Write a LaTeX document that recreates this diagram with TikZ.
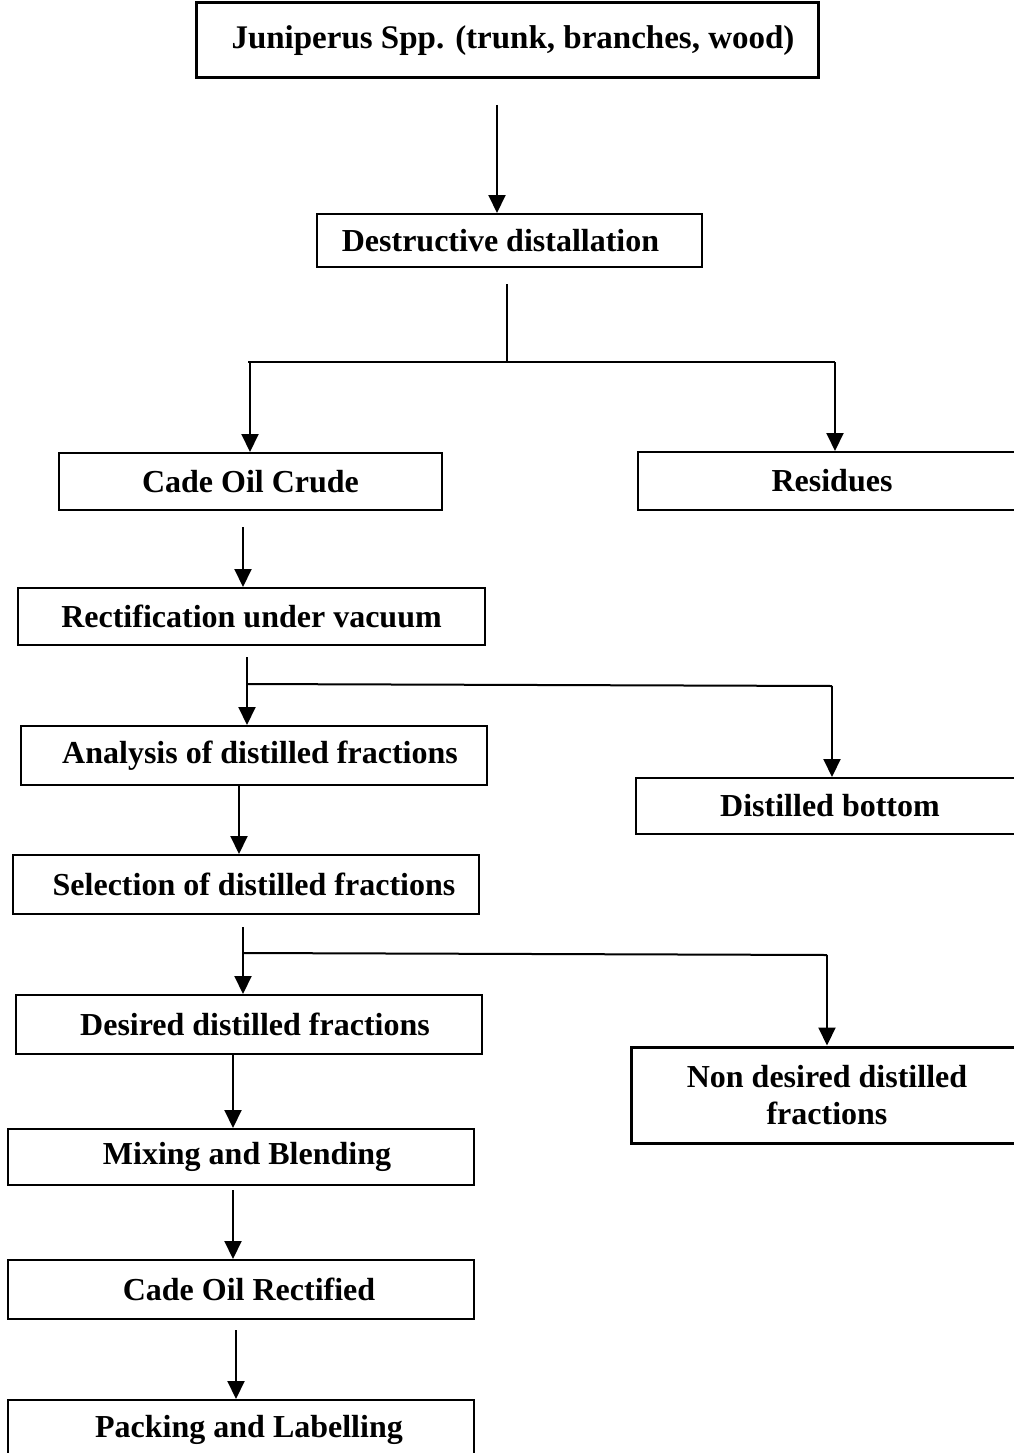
\documentclass[tikz,border=0pt]{standalone}
\usepackage{fontspec}
\setmainfont{Liberation Serif}
\usetikzlibrary{arrows.meta}
\begin{document}
\begin{tikzpicture}[x=1pt,y=-1pt,
  box/.style={draw,line width=2pt,rectangle,inner sep=0pt,align=center,
    font=\bfseries\fontsize{32}{37}\selectfont},
  thick box/.style={box,line width=3pt},
  conn/.style={line width=2pt},
  arr/.style={conn,-{Triangle[width=17pt,length=18pt]}}]
\clip (0,0) rectangle (1014,1453);
\fill[white] (0,0) rectangle (1014,1453);
% boxes
\node[thick box,minimum width=622pt,minimum height=75pt,font=\bfseries\fontsize{33}{37}\selectfont] (jun) at (507,40.5) {\hspace*{12pt}Juniperus Spp. (trunk, branches, wood)};
\node[box,minimum width=385pt,minimum height=53pt] (dd) at (509.5,240.5) {\hspace*{-18pt}Destructive distallation};
\node[box,minimum width=383pt,minimum height=57pt] (crude) at (250.5,481.5) {Cade Oil Crude};
\node[box,minimum width=388pt,minimum height=58pt] (res) at (832,481) {Residues};
\node[box,minimum width=467pt,minimum height=57pt] (rect) at (251.5,616.5) {Rectification under vacuum};
\node[box,minimum width=466pt,minimum height=59pt] (ana) at (254,755.5) {\hspace*{12pt}Analysis of distilled fractions};
\node[box,minimum width=388pt,minimum height=56pt] (bot) at (830,806) {Distilled bottom};
\node[box,minimum width=466pt,minimum height=59pt] (sel) at (246,884.5) {\hspace*{16pt}Selection of distilled fractions};
\node[box,minimum width=466pt,minimum height=59pt] (des) at (249,1024.5) {\hspace*{12pt}Desired distilled fractions};
\node[thick box,minimum width=392pt,minimum height=96pt] (non) at (827,1095) {Non desired distilled\\fractions};
\node[box,minimum width=466pt,minimum height=56pt] (mix) at (241,1157) {\hspace*{12pt}Mixing and Blending};
\node[box,minimum width=466pt,minimum height=59pt] (rectf) at (241,1289.5) {\hspace*{16pt}Cade Oil Rectified};
\node[box,minimum width=466pt,minimum height=60pt] (pack) at (241,1430) {\hspace*{16pt}Packing and Labelling};
% connector points
\coordinate (s1) at (497,105);
\coordinate (s2) at (507,284);
\coordinate (j2) at (507,362);
\coordinate (l2) at (248,362);
\coordinate (r2) at (835,362);
\coordinate (s3) at (243,527);
\coordinate (s4) at (247,657);
\coordinate (j4) at (247,684);
\coordinate (r4) at (832,686);
\coordinate (s5) at (239,786);
\coordinate (s6) at (243,927);
\coordinate (j6) at (243,953);
\coordinate (r6) at (827,955);
\coordinate (s7) at (233,1055);
\coordinate (s8) at (233,1190);
\coordinate (s9) at (236,1330);
% connectors
\draw[arr] (s1) -- (s1 |- dd.north);
\draw[conn] (s2) -- (j2);
\draw[conn] (l2) -- (r2);
\draw[arr] ([xshift=2pt]l2) -- ([xshift=2pt]l2 |- crude.north);
\draw[arr] (r2) -- (r2 |- res.north);
\draw[arr] (s3) -- (s3 |- rect.north);
\draw[arr] (s4) -- (s4 |- ana.north);
\draw[conn] (j4) -- (r4);
\draw[arr] (r4) -- (r4 |- bot.north);
\draw[arr] (s5) -- (s5 |- sel.north);
\draw[arr] (s6) -- (s6 |- des.north);
\draw[conn] (j6) -- (r6);
\draw[arr] (r6) -- (r6 |- non.north);
\draw[arr] (s7) -- (s7 |- mix.north);
\draw[arr] (s8) -- (s8 |- rectf.north);
\draw[arr] (s9) -- (s9 |- pack.north);
\end{tikzpicture}
\end{document}
